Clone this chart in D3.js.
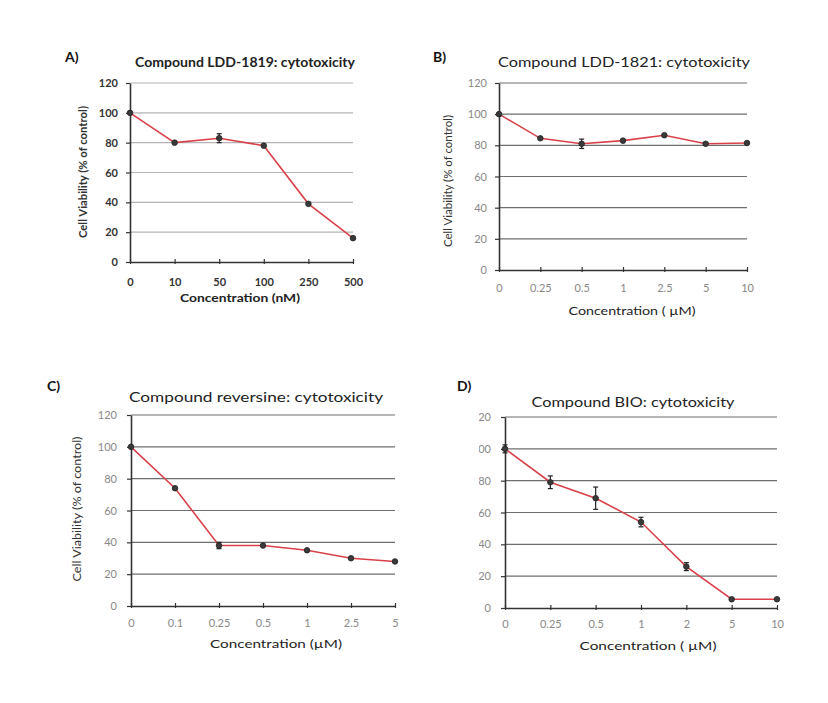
<!DOCTYPE html>
<html><head><meta charset="utf-8">
<script src="https://cdn.jsdelivr.net/npm/d3@7"></script>
<style>body{margin:0;background:#fff;} svg{display:block;} text{font-family:Lato, "Liberation Sans", sans-serif;}</style>
</head><body>
<svg id="c" width="828" height="703"></svg>
<script>
// ---- data ----
const yTicks = [0, 20, 40, 60, 80, 100, 120];

const catA = ["0", "10", "50", "100", "250", "500"];
const valA = [100, 80, 83, 78, 39, 16];
const errA = [0.5, 0.8, 3, 0.8, 1.2, 0.8];

const catB = ["0", "0.25", "0.5", "1", "2.5", "5", "10"];
const valB = [100, 84.5, 81, 83, 86.5, 81, 81.5];
const errB = [0.8, 0.8, 3, 1, 1, 1.2, 1.2];

const catC = ["0", "0.1", "0.25", "0.5", "1", "2.5", "5"];
const valC = [100, 74, 38, 38, 35, 30, 28];
const errC = [0.8, 1, 2, 1, 1.2, 0.8, 0.8];

const catD = ["0", "0.25", "0.5", "1", "2", "5", "10"];
const valD = [100, 79, 69, 54, 26, 5.5, 5.5];
const errD = [2.5, 4, 7, 3, 2.5, 0.5, 0.5];

const titles = ["Compound LDD-1819:  cytotoxicity", "Compound LDD-1821: cytotoxicity",
                "Compound reversine: cytotoxicity", "Compound BIO: cytotoxicity"];
const panelLabels = ["A)", "B)", "C)", "D)"];
const xTitles = ["Concentration (nM)", "Concentration ( \u00B5M)", "Concentration (\u00B5M)", "Concentration ( \u00B5M)"];
const yTitle = "Cell Viability (% of control)";

// ---- layout ----
const panels = [
  {cat: catA, val: valA, err: errA, L:130, R:353, T:83, B:262, grid:"#b4b4b4", tickCol:"#333", tickW:"bold",
   lab:[65,62], title:[245,67,220,"bold"], xt:[240,302,120,"bold"], yt:[83,172,132,"bold"], yl:118, xlB:286, clip:null},
  {cat: catB, val: valB, err: errB, L:499, R:747, T:83, B:270, grid:"#6e6e6e", tickCol:"#888", tickW:"normal",
   lab:[433,62], title:[624,67,252,"normal"], xt:[632,315,127,"normal"], yt:[448,181,132,"normal"], yl:487, xlB:292, clip:null},
  {cat: catC, val: valC, err: errC, L:131, R:395, T:415, B:606, grid:"#6e6e6e", tickCol:"#888", tickW:"normal",
   lab:[47,391], title:[256,402,254,"normal"], xt:[276,648,132,"normal"], yt:[77,509,145,"normal"], yl:117, xlB:627, clip:null},
  {cat: catD, val: valD, err: errD, L:505, R:777, T:417, B:608, grid:"#6e6e6e", tickCol:"#888", tickW:"normal",
   lab:[457,391], title:[633,407,203,"normal"], xt:[648,650,137,"normal"], yt:null, yl:491, xlB:628, clip:479}
];

const svg = d3.select("#c");
const defs = svg.append("defs");

panels.forEach((p, i) => {
  const g = svg.append("g");
  const x = d3.scalePoint().domain(p.cat).range([p.L, p.R]);
  const y = d3.scaleLinear().domain([0, 120]).range([p.B, p.T]);

  // gridlines
  g.selectAll(".grid").data(yTicks.filter(t => t > 0)).join("line")
    .attr("x1", p.L).attr("x2", p.R)
    .attr("y1", d => y(d)).attr("y2", d => y(d))
    .attr("stroke", p.grid).attr("stroke-width", 1.2);

  // y axis
  let tickHolder = g;
  if (p.clip !== null) {
    defs.append("clipPath").attr("id", "clip" + i).append("rect")
      .attr("x", p.clip).attr("y", 0).attr("width", 828).attr("height", 703);
    tickHolder = g.append("g").attr("clip-path", `url(#clip${i})`);
  }
  const yAx = d3.axisLeft(y).tickValues(yTicks).tickSize(4).tickSizeOuter(0);
  const yg = tickHolder.append("g").attr("transform", `translate(${p.L},0)`).call(yAx);
  yg.select(".domain").attr("stroke", "#333").attr("stroke-width", 1.6);
  yg.selectAll(".tick line").attr("stroke", "#333").attr("stroke-width", 1.2);
  yg.selectAll(".tick text").attr("font-size", 11).attr("fill", p.tickCol).attr("font-weight", p.tickW)
    .attr("x", -(p.L - p.yl));

  // x axis
  const xAx = d3.axisBottom(x).tickSize(-4).tickSizeOuter(0).tickPadding(0);
  const xg = g.append("g").attr("transform", `translate(0,${p.B})`).call(xAx);
  xg.select(".domain").attr("stroke", "#333").attr("stroke-width", 1.6);
  xg.selectAll(".tick line").attr("stroke", "#333").attr("stroke-width", 1.2).attr("y1", 2).attr("y2", -3);
  xg.selectAll(".tick text").attr("font-size", 11).attr("fill", p.tickCol).attr("font-weight", p.tickW)
    .attr("dy", 0).attr("y", p.xlB - p.B);

  // line
  const pts = p.cat.map((c, k) => ({c, v: p.val[k], e: p.err[k]}));
  g.append("path").datum(pts)
    .attr("d", d3.line().x(d => x(d.c)).y(d => y(d.v)))
    .attr("fill", "none").attr("stroke", "#d9414a").attr("stroke-width", 1.6);

  // error bars
  const eb = g.selectAll(".eb").data(pts.filter(d => d.e >= 1.5)).join("g");
  eb.append("line").attr("x1", d => x(d.c)).attr("x2", d => x(d.c))
    .attr("y1", d => y(d.v - d.e)).attr("y2", d => y(d.v + d.e)).attr("stroke", "#222").attr("stroke-width", 1.2);
  eb.append("line").attr("x1", d => x(d.c) - 2.5).attr("x2", d => x(d.c) + 2.5)
    .attr("y1", d => y(d.v - d.e)).attr("y2", d => y(d.v - d.e)).attr("stroke", "#222").attr("stroke-width", 1.2);
  eb.append("line").attr("x1", d => x(d.c) - 2.5).attr("x2", d => x(d.c) + 2.5)
    .attr("y1", d => y(d.v + d.e)).attr("y2", d => y(d.v + d.e)).attr("stroke", "#222").attr("stroke-width", 1.2);

  // markers
  g.selectAll(".pt").data(pts).join("circle")
    .attr("cx", d => x(d.c)).attr("cy", d => y(d.v)).attr("r", 2.8)
    .attr("fill", "#3a3a3a").attr("stroke", "#222").attr("stroke-width", 0.8);

  // panel label
  g.append("text").attr("x", p.lab[0]).attr("y", p.lab[1]).text(panelLabels[i])
    .attr("font-size", 14).attr("font-weight", "bold").attr("fill", "#111");

  // title
  g.append("text").attr("x", p.title[0]).attr("y", p.title[1]).attr("text-anchor", "middle")
    .attr("font-size", 12.5).attr("font-weight", p.title[3]).attr("fill", "#222")
    .attr("textLength", p.title[2]).attr("lengthAdjust", "spacingAndGlyphs")
    .text(titles[i]);

  // x title
  g.append("text").attr("x", p.xt[0]).attr("y", p.xt[1]).attr("text-anchor", "middle")
    .attr("font-size", 11.5).attr("font-weight", p.xt[3]).attr("fill", "#222")
    .attr("textLength", p.xt[2]).attr("lengthAdjust", "spacingAndGlyphs")
    .text(xTitles[i]);

  // y title
  if (p.yt) {
    g.append("text").attr("transform", `translate(${p.yt[0]},${p.yt[1]}) rotate(-90)`)
      .attr("text-anchor", "middle").attr("dy", "0.35em")
      .attr("font-size", 10.5).attr("font-weight", p.yt[3]).attr("fill", "#333")
      .attr("textLength", p.yt[2]).attr("lengthAdjust", "spacingAndGlyphs")
      .text(yTitle);
  }
});
</script>
</body></html>
